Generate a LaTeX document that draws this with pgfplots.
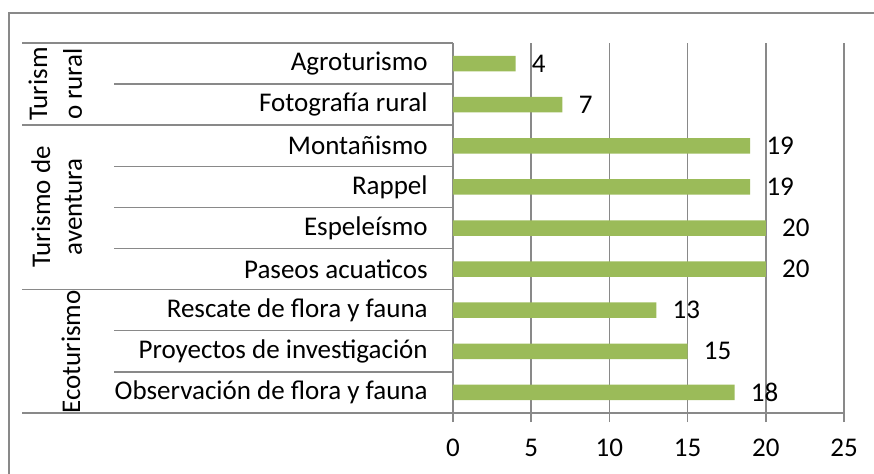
\documentclass[border=0pt]{standalone}
\usepackage{pgfplots}
\pgfplotsset{compat=1.18}
\usepackage{fontspec}
\setmainfont{Carlito}
\definecolor{barg}{HTML}{9BBB59}
\definecolor{lgray}{HTML}{898989}
\newcommand{\cf}{\fontsize{13.5}{17}\selectfont}
\begin{document}
\begin{tikzpicture}[font=\cf]
\begin{scope}[x=0.5pt,y=-0.5pt]
\useasboundingbox (0,0) rectangle (874,473);
\draw[lgray, line width=1pt] (9,475) -- (9,13) -- (876,13);
\draw[lgray, line width=0.75pt] (22,43) -- (453,43);
\foreach \yy in {125.2,289.6,413} \draw[lgray, line width=0.75pt] (22,\yy) -- (453,\yy);
\foreach \yy in {84.1,166.3,207.4,248.5,330.7,371.8} \draw[lgray, line width=0.75pt] (114,\yy) -- (453,\yy);
\node[rotate=90, anchor=base, inner sep=0pt] at (47,84) {Turism};
\node[rotate=90, anchor=base, inner sep=0pt] at (82,84) {o rural};
\node[rotate=90, anchor=base, inner sep=0pt] at (50,207) {Turismo de};
\node[rotate=90, anchor=base, inner sep=0pt] at (82,207) {aventura};
\node[rotate=90, anchor=base, inner sep=0pt] at (80,352) {Ecoturismo};
\end{scope}
\begin{axis}[
  at={(226.5pt,-206.5pt)}, anchor=south west,
  scale only axis, width=195.5pt, height=185pt,
  xbar, bar width=7.75pt,
  xmin=0, xmax=25, ymin=-0.5, ymax=8.5,
  xtick={0,5,10,15,20,25},
  ytick={0,1,2,3,4,5,6,7,8},
  yticklabels={Observación de flora y fauna, Proyectos de investigación, Rescate de flora y fauna, Paseos acuaticos, Espeleísmo, Rappel, Montañismo, Fotografía rural, Agroturismo},
  axis lines*=left,
  axis line style={-, lgray, line width=0.75pt},
  xmajorgrids,
  grid style={lgray, line width=0.75pt},
  tick align=outside,
  major tick length=4.5pt,
  xtick style={lgray, line width=0.75pt},
  ytick style={draw=none},
  /pgf/number format/assume math mode=true,
  tick label style={font=\cf, text=black},
  xticklabel style={anchor=center, inner sep=0pt, yshift=-13pt},
  yticklabel style={anchor=east, inner sep=0pt, xshift=-8pt},
  nodes near coords,
  nodes near coords style={font=\cf, text=black, anchor=west, inner sep=0pt, xshift=8pt},
  clip=false,
]
\addplot[fill=barg, draw=none] coordinates {
(18,0) (15,1) (13,2) (20,3) (20,4) (19,5) (19,6) (7,7) (4,8)
};
\end{axis}
\end{tikzpicture}
\end{document}
